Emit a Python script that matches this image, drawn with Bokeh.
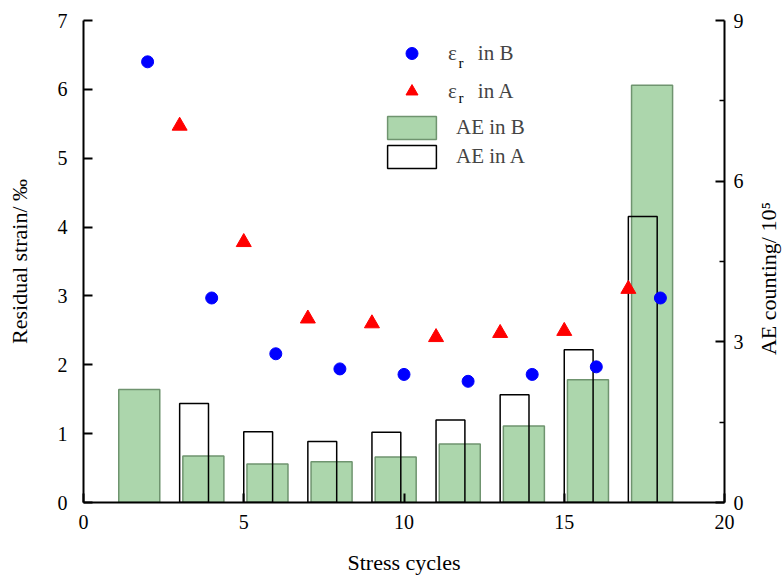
import math
from bokeh.plotting import figure
from bokeh.models import (Range1d, LinearAxis, FixedTicker, Legend, LegendItem, Label,
                          ColumnDataSource)
from bokeh.embed import file_html
from bokeh.resources import INLINE

# ---- data ----
cycles_b = [2, 4, 6, 8, 10, 12, 14, 16, 18]
strain_b = [6.40, 2.97, 2.16, 1.94, 1.86, 1.76, 1.86, 1.97, 2.97]
cycles_a = [3, 5, 7, 9, 11, 13, 15, 17]
strain_a = [5.47, 3.78, 2.67, 2.60, 2.40, 2.46, 2.49, 3.10]
ae_b = [2.11, 0.87, 0.72, 0.76, 0.85, 1.09, 1.43, 2.29, 7.79]   # x 10^5
ae_a = [1.85, 1.32, 1.14, 1.31, 1.54, 2.01, 2.85, 5.34]         # x 10^5
x_ticks = [0, 5, 10, 15, 20]
left_ticks = [0, 1, 2, 3, 4, 5, 6, 7]
right_ticks = [0, 3, 6, 9]
right_minor = [1.5, 4.5, 7.5]

FONT = "Liberation Serif"
FS = "20px"
TS = "22px"

p = figure(width=782, height=577, output_backend="svg", toolbar_location=None,
           x_range=Range1d(0, 20), y_range=Range1d(0, 7),
           min_border_left=83, min_border_top=20, min_border_right=58, min_border_bottom=75)
p.outline_line_color = None
p.grid.visible = False
p.background_fill_color = "white"
p.extra_y_ranges = {"ae": Range1d(0, 9)}

# bars
src_b = ColumnDataSource(dict(x=[c - 0.26 for c in cycles_b], top=ae_b))
src_a = ColumnDataSource(dict(x=[c + 0.45 for c in cycles_a], top=ae_a))
gb = p.vbar(x="x", top="top", width=1.28, bottom=0, source=src_b, y_range_name="ae",
            fill_color="#acd6ac", line_color="#6f946f", line_width=1.5)
ga = p.vbar(x="x", top="top", width=0.9, bottom=0, source=src_a, y_range_name="ae",
            fill_color=None, line_color="black", line_width=1.5)

# points
sb = p.scatter(cycles_b, strain_b, marker="circle", size=12, fill_color="#0000ff", line_color="#0000ff")
sa = p.scatter(cycles_a, strain_a, marker="triangle", size=15, fill_color="#ff0000", line_color="#ff0000")

# axes
xa = p.xaxis[0]
xa.ticker = FixedTicker(ticks=x_ticks, minor_ticks=[])
xa.axis_label = "Stress cycles"
ya = p.yaxis[0]
ya.ticker = FixedTicker(ticks=left_ticks, minor_ticks=[])
ya.axis_label = "Residual strain/ ‰"

ra = LinearAxis(y_range_name="ae", ticker=FixedTicker(ticks=right_ticks, minor_ticks=right_minor))
p.add_layout(ra, "right")

for ax in (xa, ya, ra):
    ax.axis_line_width = 2
    ax.axis_line_color = "black"
    ax.major_tick_in = 9
    ax.major_tick_out = 0
    ax.major_tick_line_width = 2
    ax.minor_tick_in = 5
    ax.minor_tick_out = 0
    ax.minor_tick_line_width = 1.5
    ax.major_label_text_font = FONT
    ax.major_label_text_font_size = FS
    ax.major_label_text_color = "black"
    ax.axis_label_text_font = FONT
    ax.axis_label_text_font_size = TS
    ax.axis_label_text_font_style = "normal"
    ax.axis_label_text_color = "black"

xa.major_label_standoff = 12
xa.axis_label_standoff = 18
ya.major_label_standoff = 16
ya.axis_label_standoff = 23
ra.major_label_standoff = 9

# right axis title, reading bottom-to-top as in the reference
p.add_layout(Label(x=22, y=224, x_units="screen", y_units="screen", angle=math.pi / 2,
                   text="AE counting/ 10⁵", text_align="center", text_baseline="middle",
                   text_font=FONT, text_font_size=TS, text_color="black"), "right")

# legends
leg1 = Legend(items=[LegendItem(label="ε    in B", renderers=[sb]),
                     LegendItem(label="ε    in A", renderers=[sa])],
              location=(304, 396), orientation="vertical",
              glyph_width=49, glyph_height=30, label_height=30, spacing=8,
              label_standoff=12, padding=0, margin=0,
              border_line_color=None, background_fill_alpha=0,
              label_text_font=FONT, label_text_font_size="21px")
leg2 = Legend(items=[LegendItem(label="AE in B", renderers=[gb]),
                     LegendItem(label="AE in A", renderers=[ga])],
              location=(298, 331), orientation="vertical",
              glyph_width=61, glyph_height=29, label_height=29, spacing=0,
              label_standoff=14, padding=0, margin=0,
              border_line_color=None, background_fill_alpha=0,
              label_text_font=FONT, label_text_font_size="21px")
p.add_layout(leg1, "center")
p.add_layout(leg2, "center")

for yy in (432, 397):
    p.add_layout(Label(x=375, y=yy, x_units="screen", y_units="screen", text="r",
                       text_font=FONT, text_font_size="15px", text_color="black"))

open("out.html", "w").write(file_html(p, INLINE))
